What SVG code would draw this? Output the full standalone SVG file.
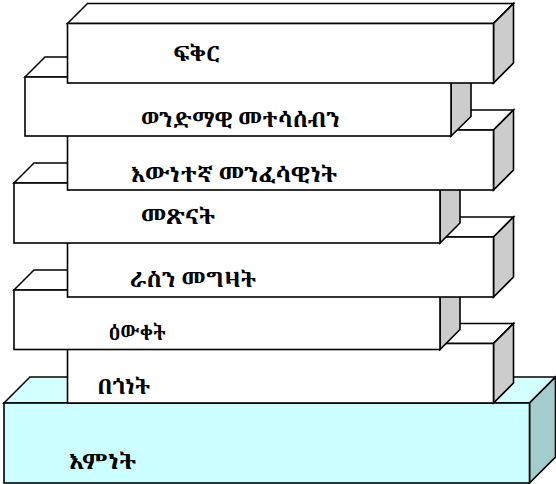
<svg xmlns="http://www.w3.org/2000/svg" width="556" height="484" viewBox="0 0 556 484">
  <style>
    .edge { stroke: #000; stroke-width: 1.6; stroke-linejoin: miter; }
    .front { fill: #FFFFFF; }
    .top { fill: #FFFFFF; }
    .side { fill: #CCCCCC; }
    .cfront { fill: #CCFFFF; }
    .ctop { fill: #D4FFFF; }
    .cside { fill: #A3CCCC; }
    .label { font-family: "Noto Serif Ethiopic", "Noto Sans Ethiopic", "Abyssinica SIL", "Noto Sans", "DejaVu Sans", sans-serif; font-size: 21px; font-weight: bold; fill: #000; }
  </style>
  <rect width="556" height="484" fill="#FFFFFF"/>

  <g id="box-emnet">
    <path class="ctop edge" d="M4 403 L30 377 L555.5 377 L529.5 403 Z"/>
    <path class="cside edge" d="M529.5 403 L555.5 377 L555.5 457 L529.5 483 Z"/>
    <rect class="cfront edge" x="4" y="403" width="525.5" height="80"/>
    <text class="label" x="69" y="469" textLength="67" lengthAdjust="spacingAndGlyphs">እምነት</text>
  </g>

  <g id="box-begonet">
    <path class="top edge" d="M67.5 343.5 L87.5 323.5 L513.5 323.5 L493.5 343.5 Z"/>
    <path class="side edge" d="M493.5 343.5 L513.5 323.5 L513.5 383 L493.5 403 Z"/>
    <rect class="front edge" x="67.5" y="343.5" width="426" height="59.5"/>
    <text class="label" x="97.5" y="393.5" textLength="52.5" lengthAdjust="spacingAndGlyphs">በጎነት</text>
  </g>

  <g id="box-ewqet">
    <path class="top edge" d="M14 290 L34 270 L460 270 L440 290 Z"/>
    <path class="side edge" d="M440 290 L460 270 L460 329.5 L440 349.5 Z"/>
    <rect class="front edge" x="14" y="290" width="426" height="59.5"/>
    <text class="label" x="108.5" y="339.5" textLength="57" lengthAdjust="spacingAndGlyphs">ዕውቀት</text>
  </g>

  <g id="box-rasn-megzat">
    <path class="top edge" d="M67.5 237 L87.5 217 L513.5 217 L493.5 237 Z"/>
    <path class="side edge" d="M493.5 237 L513.5 217 L513.5 277 L493.5 297 Z"/>
    <rect class="front edge" x="67.5" y="237" width="426" height="60"/>
    <text class="label" x="130" y="286.5" textLength="126" lengthAdjust="spacingAndGlyphs">ራስን መግዛት</text>
  </g>

  <g id="box-metsnat">
    <path class="top edge" d="M14 183 L34 163 L460 163 L440 183 Z"/>
    <path class="side edge" d="M440 183 L460 163 L460 223 L440 243 Z"/>
    <rect class="front edge" x="14" y="183" width="426" height="60"/>
    <text class="label" x="141" y="223.5" textLength="74" lengthAdjust="spacingAndGlyphs">መጽናት</text>
  </g>

  <g id="box-ewnetegna">
    <path class="top edge" d="M67.5 130 L87.5 110 L513.5 110 L493.5 130 Z"/>
    <path class="side edge" d="M493.5 130 L513.5 110 L513.5 170 L493.5 190 Z"/>
    <rect class="front edge" x="67.5" y="130" width="426" height="60"/>
    <text class="label" x="131" y="181.5" textLength="206" lengthAdjust="spacingAndGlyphs">እውነተኛ መንፈሳዊነት</text>
  </g>

  <g id="box-wendmawi">
    <path class="top edge" d="M25 77 L45 57 L471 57 L451 77 Z"/>
    <path class="side edge" d="M451 77 L471 57 L471 116.5 L451 136 Z"/>
    <rect class="front edge" x="25" y="77" width="426" height="59"/>
    <text class="label" x="141" y="126.5" textLength="199" lengthAdjust="spacingAndGlyphs">ወንድማዊ መተሳሰብን</text>
  </g>

  <g id="box-fqr">
    <path class="top edge" d="M67.5 23.5 L87.5 3.5 L513.5 3.5 L493.5 23.5 Z"/>
    <path class="side edge" d="M493.5 23.5 L513.5 3.5 L513.5 63 L493.5 83 Z"/>
    <rect class="front edge" x="67.5" y="23.5" width="426" height="59.5"/>
    <text class="label" x="173.5" y="60.5" textLength="46.5" lengthAdjust="spacingAndGlyphs">ፍቅር</text>
  </g>

  <g id="connectors"></g>
</svg>
